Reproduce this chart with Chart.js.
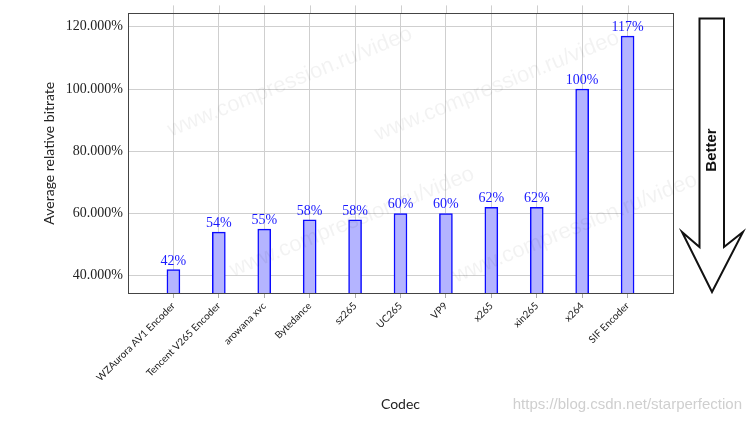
<!DOCTYPE html>
<html>
<head>
<meta charset="utf-8">
<script src="https://cdn.jsdelivr.net/npm/chart.js@4.4.1/dist/chart.umd.min.js"></script>
<style>
  html, body { margin: 0; padding: 0; background: #fff; }
  #wrap { width: 750px; height: 423px; position: relative; }
</style>
</head>
<body>
<div id="wrap"><canvas id="graficoCodecs"></canvas></div>
<script>
const codecs = ['WZAurora AV1 Encoder', 'Tencent V265 Encoder', 'arowana xvc', 'Bytedance', 'sz265',
    'UC265', 'VP9', 'x265', 'xin265', 'x264', 'SIF Encoder'];
const bitrates = [42, 54, 55, 58, 58, 60, 60, 62, 62, 100, 117];
const valueLabels = ['42%', '54%', '55%', '58%', '58%', '60%', '60%', '62%', '62%', '100%', '117%'];
const yTicks = [40, 60, 80, 100, 120];
const watermark = 'www.compression.ru/video';
const siteMark = 'https://blog.csdn.net/starperfection';

// empty slot on each side so the first and last bars sit one step in from the frame
const labels = [''].concat(codecs, ['']);
const values = [null].concat(bitrates, [null]);

const extras = {
    id: 'extras',
    afterDatasetsDraw(chart) {
        const ctx = chart.ctx;
        const meta = chart.getDatasetMeta(0);
        ctx.save();
        ctx.font = '14px "Liberation Serif"';
        ctx.fillStyle = 'rgb(25,25,255)';
        ctx.textAlign = 'center';
        ctx.textBaseline = 'alphabetic';
        meta.data.forEach(function (bar, i) {
            if (values[i] == null) return;
            ctx.fillText(valueLabels[i - 1], bar.x, bar.y - 5);
        });
        ctx.restore();
    },
    afterDraw(chart) {
        const ctx = chart.ctx;
        const a = chart.chartArea;
        const xs = chart.scales.x;
        ctx.save();
        // grid lines poke above the frame
        ctx.strokeStyle = '#cfcfcf';
        ctx.lineWidth = 1;
        codecs.forEach(function (c, i) {
            const x = Math.round(xs.getPixelForValue(i + 1)) + 0.5;
            ctx.beginPath();
            ctx.moveTo(x, a.top - 8);
            ctx.lineTo(x, a.top);
            ctx.stroke();
        });
        // frame
        ctx.strokeStyle = '#444';
        ctx.strokeRect(Math.round(a.left) + 0.5, Math.round(a.top) + 0.5,
            Math.round(a.right - a.left), Math.round(a.bottom - a.top));

        // "Better" arrow
        const r = a.right;
        ctx.beginPath();
        ctx.moveTo(r + 26.5, 18.5);
        ctx.lineTo(r + 51, 18.5);
        ctx.lineTo(r + 51, 247);
        ctx.lineTo(r + 70, 232);
        ctx.lineTo(r + 39, 292);
        ctx.lineTo(r + 9, 232);
        ctx.lineTo(r + 26.5, 247);
        ctx.closePath();
        ctx.fillStyle = '#fff';
        ctx.fill();
        ctx.strokeStyle = '#111';
        ctx.lineWidth = 2;
        ctx.stroke();
        ctx.translate(r + 39, 150);
        ctx.rotate(-Math.PI / 2);
        ctx.fillStyle = '#111';
        ctx.font = 'bold 15px "Liberation Sans"';
        ctx.textAlign = 'center';
        ctx.textBaseline = 'middle';
        ctx.fillText('Better', 0, 0);
        ctx.restore();

        // watermarks
        ctx.save();
        ctx.fillStyle = 'rgba(0,0,0,0.05)';
        ctx.font = '22px "Liberation Sans"';
        ctx.textAlign = 'center';
        ctx.textBaseline = 'middle';
        [[290, 82], [497, 86], [352, 222], [575, 228]].forEach(function (p) {
            ctx.save();
            ctx.translate(p[0], p[1]);
            ctx.rotate(-22 * Math.PI / 180);
            ctx.fillText(watermark, 0, 0);
            ctx.restore();
        });
        ctx.fillStyle = '#cfcfcf';
        ctx.font = '15px "Liberation Sans"';
        ctx.textAlign = 'right';
        ctx.fillText(siteMark, 742, 405);
        ctx.restore();
    }
};

const GRAFICO = document.getElementById('graficoCodecs');

let grafica = new Chart(GRAFICO, {
    type: 'bar',
    data: {
        labels: labels,
        datasets: [{
            data: values,
            backgroundColor: 'rgb(180,180,255)',
            borderColor: 'rgb(10,10,255)',
            borderWidth: 1.5,
            borderSkipped: false,
            barThickness: 13
        }]
    },
    options: {
        responsive: true,
        maintainAspectRatio: false,
        animation: false,
        layout: { padding: { left: 37, right: 77, top: 13, bottom: 6 } },
        plugins: {
            legend: { display: false },
            tooltip: { enabled: false }
        },
        scales: {
            x: {
                type: 'category',
                offset: false,
                grid: {
                    offset: false,
                    tickLength: 5,
                    color: function (c) {
                        return (c.index === 0 || c.index === labels.length - 1) ? 'rgba(0,0,0,0)' : '#cfcfcf';
                    },
                    tickColor: function (c) {
                        return (c.index === 0 || c.index === labels.length - 1) ? 'rgba(0,0,0,0)' : '#aaa';
                    }
                },
                border: { display: false },
                ticks: {
                    autoSkip: false,
                    maxRotation: 45,
                    minRotation: 45,
                    padding: 2,
                    color: '#222',
                    font: { family: 'Lato', size: 10 }
                },
                title: {
                    display: true,
                    text: 'Codec',
                    color: '#222',
                    font: { family: 'Lato', size: 14 }
                },
                afterFit: function (scale) { scale.height = 124; }
            },
            y: {
                min: 34.45,
                max: 124.3,
                afterBuildTicks: function (scale) {
                    scale.ticks = yTicks.map(function (v) { return { value: v }; });
                },
                grid: { color: '#cfcfcf', drawTicks: false },
                border: { display: false },
                ticks: {
                    padding: 5,
                    color: '#222',
                    font: { family: 'Liberation Serif', size: 14 },
                    callback: function (value) {
                        return value.toFixed(3) + '%';
                    }
                },
                title: {
                    display: true,
                    text: 'Average relative bitrate',
                    color: '#222',
                    font: { family: 'Lato', size: 14 }
                },
                afterFit: function (scale) { scale.width = 91; }
            }
        }
    },
    plugins: [extras]
});
</script>
</body>
</html>
